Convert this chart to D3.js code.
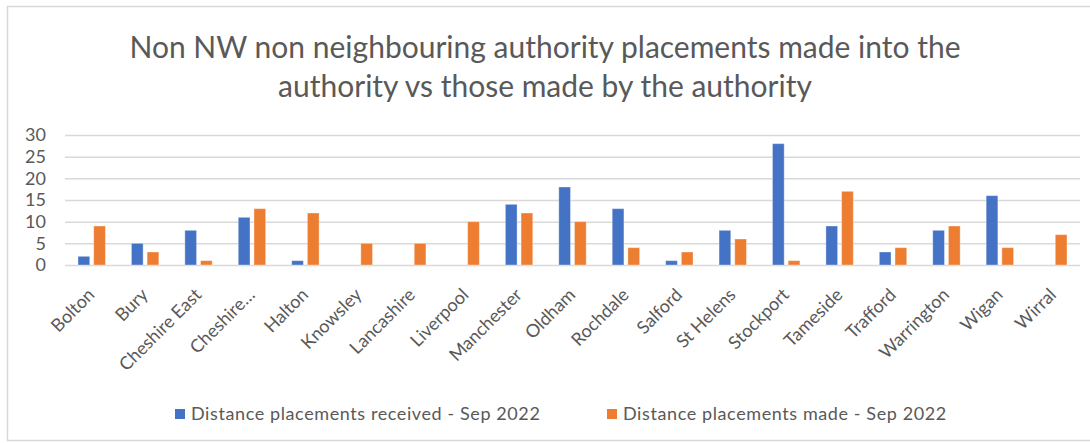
<!DOCTYPE html>
<html>
<head>
<meta charset="utf-8">
<script src="https://cdn.jsdelivr.net/npm/d3@7"></script>
<style>
  body { margin: 0; background: #fff; }
  svg { display: block; font-family: Lato, "Open Sans", sans-serif; }
</style>
</head>
<body>
<svg id="chart" width="1090" height="443"></svg>
<script>
// chart data
const categories = ["Bolton", "Bury", "Cheshire East", "Cheshire…", "Halton", "Knowsley", "Lancashire",
  "Liverpool", "Manchester", "Oldham", "Rochdale", "Salford", "St Helens", "Stockport", "Tameside",
  "Trafford", "Warrington", "Wigan", "Wirral"];
const received = [2, 5, 8, 11, 1, 0, 0, 0, 14, 18, 13, 1, 8, 28, 9, 3, 8, 16, 0];
const made = [9, 3, 1, 13, 12, 5, 5, 10, 12, 10, 4, 3, 6, 1, 17, 4, 9, 4, 7];
const seriesNames = ["Distance placements received - Sep 2022", "Distance placements made - Sep 2022"];
const seriesColors = ["#4472C4", "#ED7D31"];
const yTicks = [0, 5, 10, 15, 20, 25, 30];
const titleLines = ["Non NW non neighbouring authority placements made into the",
  "authority vs those made by the authority"];

const svg = d3.select("#chart");
const textColor = "#595959";

// outer border
svg.append("rect")
  .attr("x", 7.5).attr("y", 6.5)
  .attr("width", 1090).attr("height", 434)
  .attr("fill", "none").attr("stroke", "#d9d9d9").attr("stroke-width", 1.5);

const plot = { left: 65, right: 1080, top: 135, bottom: 265 };

const x0 = d3.scaleBand().domain(categories).range([plot.left, plot.right]).padding(0);
const groupW = 27.4;
const x1 = d3.scaleBand().domain([0, 1]).range([0, groupW]).paddingInner(0.255);
const y = d3.scaleLinear().domain([0, 30]).range([plot.bottom, plot.top]);

// title
svg.append("g").selectAll("text")
  .data(titleLines)
  .join("text")
  .attr("x", 545)
  .attr("y", (d, i) => 58 + i * 39)
  .attr("text-anchor", "middle")
  .attr("fill", textColor)
  .attr("font-size", 30)
  .text(d => d);

// gridlines
const grid = svg.append("g")
  .attr("transform", `translate(${plot.left},0)`)
  .call(d3.axisLeft(y).tickValues(yTicks).tickSize(-(plot.right - plot.left)).tickFormat(""));
grid.select(".domain").remove();
grid.selectAll("line").attr("stroke", "#d9d9d9").attr("stroke-width", 1.5);

// y axis labels
const yAxis = svg.append("g")
  .attr("transform", `translate(46,0)`)
  .call(d3.axisLeft(y).tickValues(yTicks).tickSize(0).tickPadding(0));
yAxis.select(".domain").remove();
yAxis.selectAll("text")
  .attr("fill", textColor)
  .attr("font-size", 18)
  .attr("font-family", "Lato, sans-serif");

// bars
const series = [received, made];
const groups = svg.append("g").selectAll("g")
  .data(categories)
  .join("g")
  .attr("transform", d => `translate(${x0(d) + (x0.bandwidth() - groupW) / 2},0)`);

groups.selectAll("rect")
  .data((d, i) => series.map((s, k) => ({ k: k, v: s[i] })).filter(e => e.v > 0))
  .join("rect")
  .attr("x", e => x1(e.k))
  .attr("width", x1.bandwidth())
  .attr("y", e => y(e.v))
  .attr("height", e => y(0) - y(e.v))
  .attr("fill", e => seriesColors[e.k])
  .attr("stroke", "#fff")
  .attr("stroke-opacity", 0.35)
  .attr("stroke-width", 1);

// x axis labels, rotated
svg.append("g").selectAll("text")
  .data(categories)
  .join("text")
  .attr("transform", d => `translate(${x0(d) + x0.bandwidth() / 2 + 4},${plot.bottom + 31}) rotate(-45)`)
  .attr("text-anchor", "end")
  .attr("fill", textColor)
  .attr("font-size", 18)
  .text(d => d);

// legend
const legendX = [175, 607];
const legend = svg.append("g").selectAll("g")
  .data(seriesNames)
  .join("g")
  .attr("transform", (d, i) => `translate(${legendX[i]},409)`);
legend.append("rect")
  .attr("width", 10).attr("height", 10)
  .attr("fill", (d, i) => seriesColors[i]);
legend.append("text")
  .attr("x", 16).attr("y", 11)
  .attr("fill", textColor)
  .attr("font-size", 18)
  .attr("letter-spacing", 0.6)
  .text(d => d);
</script>
</body>
</html>
